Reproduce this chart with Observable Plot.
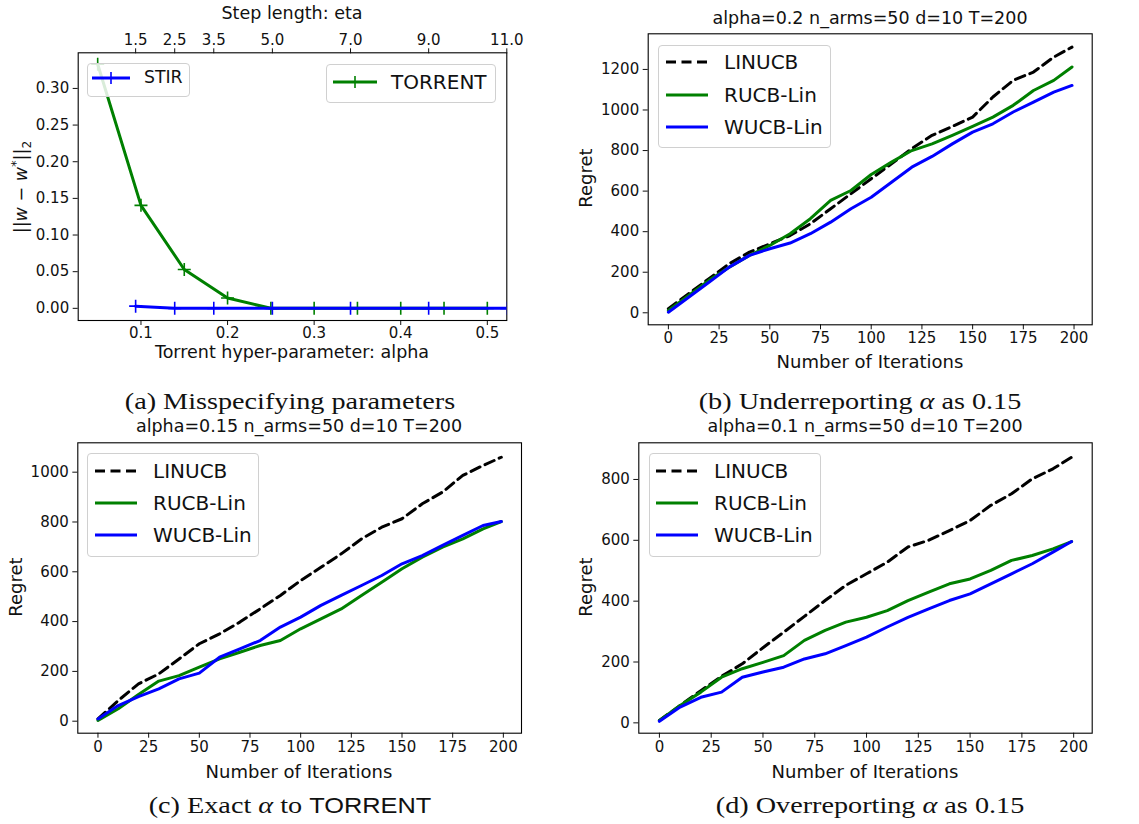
<!DOCTYPE html>
<html>
<head>
<meta charset="utf-8">
<script src="https://cdn.jsdelivr.net/npm/d3@7"></script>
<script src="https://cdn.jsdelivr.net/npm/@observablehq/plot@0.6"></script>
<style>
  html, body { margin: 0; padding: 0; background: #fff; }
  #root { position: relative; width: 1139px; height: 824px; background: #fff; overflow: hidden; font-family: "DejaVu Sans", sans-serif; color: #111; }
  .lbl { position: absolute; white-space: nowrap; line-height: 1; }
  .cap { font-family: "Liberation Serif", "DejaVu Serif", serif; }
  .leg { position: absolute; box-sizing: border-box; border: 1px solid #d0d0d0; border-radius: 4px; background: rgba(255,255,255,0.85); }
</style>
</head>
<body>
<div id="root"></div>
<script>
// ---------------- data ----------------
// (a) Misspecifying parameters
const alphaValues = [0.05, 0.10, 0.15, 0.20, 0.25, 0.30, 0.35, 0.40, 0.45, 0.50];
const torrentErr  = [0.333, 0.1405, 0.053, 0.014, 0, 0, 0, 0, 0, 0];
const etaValues   = [1.5, 2.5, 3.5, 5.0, 7.0, 9.0, 11.0];
const stirErr     = [0.003, 0, 0, 0, 0, 0, 0];
const alphaTicks  = [0.1, 0.2, 0.3, 0.4, 0.5];
const etaTicks    = [1.5, 2.5, 3.5, 5.0, 7.0, 9.0, 11.0];
const errTicks    = [0, 0.05, 0.10, 0.15, 0.20, 0.25, 0.30];

// regret curves (iterations sampled)
const iterations = [0, 10, 20, 30, 40, 50, 60, 70, 80, 90, 100, 110, 120, 130, 140, 150, 160, 170, 180, 190, 199];
const iterTicks = [0, 25, 50, 75, 100, 125, 150, 175, 200];

// (b) alpha=0.2
const b_linucb = [20, 94, 168, 242, 299, 340, 381, 439, 513, 587, 661, 735, 809, 875, 919, 965, 1064, 1146, 1187, 1261, 1310];
const b_rucb   = [12, 85, 160, 225, 283, 332, 390, 464, 554, 603, 682, 743, 800, 833, 875, 919, 965, 1023, 1096, 1146, 1212];
const b_wucb   = [3, 77, 151, 225, 283, 316, 344, 390, 447, 513, 570, 644, 718, 771, 833, 891, 932, 990, 1039, 1088, 1121];
// (c) alpha=0.15
const c_linucb = [9, 83, 150, 190, 250, 311, 351, 398, 451, 505, 565, 618, 672, 732, 779, 813, 873, 920, 987, 1027, 1060];
const c_rucb   = [3, 50, 107, 161, 183, 217, 250, 277, 304, 324, 371, 411, 451, 505, 558, 612, 659, 699, 732, 772, 802];
const c_wucb   = [9, 63, 99, 130, 170, 193, 257, 290, 324, 378, 418, 465, 505, 545, 585, 632, 665, 706, 746, 786, 802];
// (d) alpha=0.1
const d_linucb = [8, 57, 106, 153, 194, 247, 298, 350, 402, 452, 490, 528, 578, 600, 632, 665, 715, 753, 802, 835, 873];
const d_rucb   = [8, 57, 101, 150, 178, 199, 221, 271, 304, 331, 347, 369, 402, 430, 457, 473, 501, 534, 550, 572, 596];
const d_wucb   = [5, 52, 84, 101, 150, 167, 183, 210, 227, 254, 282, 315, 347, 375, 402, 424, 457, 490, 523, 561, 596];

const seriesNames = ["LINUCB", "RUCB-Lin", "WUCB-Lin"];
const seriesColors = ["#000000", "#008000", "#0000ff"];

// ---------------- helpers ----------------
const root = document.getElementById("root");
const FONT = '"DejaVu Sans", sans-serif';
const TICK_FS = "15px";

function place(el, left, top) {
  el.style.position = "absolute";
  el.style.left = left + "px";
  el.style.top = top + "px";
  root.appendChild(el);
}
function text(html, cx, cy, size, opts = {}) {
  const d = document.createElement("div");
  d.className = "lbl" + (opts.cls ? " " + opts.cls : "");
  d.innerHTML = html;
  d.style.fontSize = size + "px";
  d.style.left = cx + "px";
  d.style.top = cy + "px";
  d.style.transform = "translate(-50%,-50%)" + (opts.rotate ? ` rotate(${opts.rotate}deg)` : "") + (opts.sx ? ` scaleX(${opts.sx})` : "");
  if (opts.family) d.style.fontFamily = opts.family;
  root.appendChild(d);
  return d;
}
const plusSymbol = {
  draw(ctx, size) {
    const r = Math.sqrt(size / Math.PI);
    ctx.moveTo(-r, 0); ctx.lineTo(r, 0);
    ctx.moveTo(0, -r); ctx.lineTo(0, r);
  }
};
function swatchSVG(w, color, dashed, marker, sw) {
  const mk = marker ? `<line x1="${w/2}" x2="${w/2}" y1="3" y2="15" stroke="${color}" stroke-width="1.6"/>` : "";
  return `<svg width="${w}" height="18" style="position:absolute;overflow:visible">
    <line x1="0" x2="${w}" y1="9" y2="9" stroke="${color}" stroke-width="${sw}" ${dashed ? 'stroke-dasharray="10,5.5"' : ""}/>${mk}</svg>`;
}
function legend(box, entries) {
  const b = document.createElement("div");
  b.className = "leg";
  b.style.left = box.x + "px"; b.style.top = box.y + "px";
  b.style.width = box.w + "px"; b.style.height = box.h + "px";
  root.appendChild(b);
  for (const e of entries) {
    const s = document.createElement("div");
    s.style.position = "absolute";
    s.style.left = e.lx + "px"; s.style.top = (e.y - 9) + "px";
    s.innerHTML = swatchSVG(e.lw, e.color, e.dashed, e.marker, e.sw || 3);
    root.appendChild(s);
    const t = document.createElement("div");
    t.className = "lbl";
    t.textContent = e.label;
    t.style.fontSize = e.fs + "px";
    t.style.left = e.tx + "px";
    t.style.top = e.y + "px";
    t.style.transform = "translateY(-50%)";
    root.appendChild(t);
  }
}
function table(xs, ys) { return xs.map((x, i) => ({x, y: ys[i]})); }

// ---------------- regret panel ----------------
function regretPanel({left, top, width, height, margins, yDomain, yTicks, series}) {
  const marks = [Plot.frame({stroke: "#000", strokeWidth: 1.1})];
  series.forEach((vals, k) => {
    marks.push(Plot.line(table(iterations, vals), {
      x: "x", y: "y", stroke: seriesColors[k], strokeWidth: 3,
      strokeDasharray: k === 0 ? "10,5.5" : null, strokeLinejoin: "round"
    }));
  });
  const svg = Plot.plot({
    width, height,
    marginLeft: margins[0], marginRight: margins[1], marginTop: margins[2], marginBottom: margins[3],
    style: {fontFamily: FONT, fontSize: TICK_FS, color: "#111", background: "transparent", overflow: "visible"},
    x: {domain: [-9.95, 208.95], ticks: iterTicks, tickSize: 5, tickPadding: 3, label: null, tickFormat: d3.format("d")},
    y: {domain: yDomain, ticks: yTicks, tickSize: 5, tickPadding: 4, label: null, tickFormat: d3.format("d")},
    marks
  });
  place(svg, left, top);
}

// ---------------- panel (a) ----------------
(function () {
  const W = 570, H = 380, M = [77.7, 63.7, 52.3, 60];
  const yDom = [-0.0166, 0.3486];
  const a1 = Plot.plot({
    width: W, height: H,
    marginLeft: M[0], marginRight: M[1], marginTop: M[2], marginBottom: M[3],
    style: {fontFamily: FONT, fontSize: TICK_FS, color: "#111", background: "transparent", overflow: "visible"},
    x: {domain: [0.0275, 0.5225], ticks: alphaTicks, tickFormat: d3.format(".1f"), tickSize: 5, tickPadding: 2, label: null},
    y: {domain: yDom, ticks: errTicks, tickFormat: d3.format(".2f"), tickSize: 5, tickPadding: 4, label: null},
    marks: [
      Plot.frame({stroke: "#000", strokeWidth: 1.1}),
      Plot.line(table(alphaValues, torrentErr), {x: "x", y: "y", stroke: "#008000", strokeWidth: 3, clip: true}),
      Plot.dot(table(alphaValues, torrentErr), {x: "x", y: "y", symbol: plusSymbol, r: 6.5, stroke: "#008000", strokeWidth: 1.6, fill: "none", clip: true})
    ]
  });
  place(a1, 0, 0);
  const a2 = Plot.plot({
    width: W, height: H,
    marginLeft: M[0], marginRight: M[1], marginTop: M[2], marginBottom: M[3],
    style: {fontFamily: FONT, fontSize: TICK_FS, color: "#111", background: "transparent", overflow: "visible"},
    x: {domain: [0.03, 11.0], axis: "top", ticks: etaTicks, tickFormat: d3.format(".1f"), tickSize: 5, tickPadding: 3, label: null},
    y: {domain: yDom, axis: null},
    marks: [
      Plot.line(table(etaValues, stirErr), {x: "x", y: "y", stroke: "#0000ff", strokeWidth: 3, clip: true}),
      Plot.dot(table(etaValues, stirErr), {x: "x", y: "y", symbol: plusSymbol, r: 6.5, stroke: "#0000ff", strokeWidth: 1.6, fill: "none", clip: true})
    ]
  });
  place(a2, 0, 0);
  text("Step length: eta", 292, 14, 17.5);
  text("Torrent hyper-parameter: alpha", 292, 353, 17.5);
  text("||<i>w</i> − <i>w</i><sup style='font-size:0.75em'>*</sup>||<sub style='font-size:0.7em'>2</sub>", 21, 187, 17.5, {rotate: -90});
  legend({x: 87, y: 63, w: 103, h: 34}, [
    {label: "STIR", color: "#0000ff", lx: 92, lw: 38, tx: 144, y: 78, fs: 17.3, marker: true}
  ]);
  legend({x: 326, y: 64, w: 170, h: 39}, [
    {label: "TORRENT", color: "#008000", lx: 333, lw: 44, tx: 391, y: 82, fs: 20, marker: true}
  ]);
})();

// ---------------- panel (b) ----------------
regretPanel({left: 570, top: 0, width: 569, height: 380, margins: [77.7, 47.3, 33.3, 55.7],
  yDomain: [-59.2, 1375.7], yTicks: [0, 200, 400, 600, 800, 1000, 1200], series: [b_linucb, b_rucb, b_wucb]});
text("alpha=0.2 n_arms=50 d=10 T=200", 870, 19, 17.5);
text("Number of Iterations", 870, 362, 18);
text("Regret", 586, 178, 18, {rotate: -90});
legend({x: 658, y: 45, w: 173, h: 103}, [
  {label: "LINUCB", color: "#000", dashed: true, lx: 666, lw: 42, tx: 724, y: 62, fs: 20},
  {label: "RUCB-Lin", color: "#008000", lx: 666, lw: 42, tx: 724, y: 95, fs: 20},
  {label: "WUCB-Lin", color: "#0000ff", lx: 666, lw: 42, tx: 724, y: 127, fs: 20}
]);

// ---------------- panel (c) ----------------
regretPanel({left: 0, top: 410, width: 570, height: 380, margins: [77.3, 49, 32.3, 57.3],
  yDomain: [-48.2, 1118], yTicks: [0, 200, 400, 600, 800, 1000], series: [c_linucb, c_rucb, c_wucb]});
text("alpha=0.15 n_arms=50 d=10 T=200", 299, 427, 17.5);
text("Number of Iterations", 299, 772, 18);
text("Regret", 16, 587, 18, {rotate: -90});
legend({x: 87, y: 453, w: 172, h: 104}, [
  {label: "LINUCB", color: "#000", dashed: true, lx: 95, lw: 42, tx: 153, y: 471, fs: 20},
  {label: "RUCB-Lin", color: "#008000", lx: 95, lw: 42, tx: 153, y: 503, fs: 20},
  {label: "WUCB-Lin", color: "#0000ff", lx: 95, lw: 42, tx: 153, y: 535, fs: 20}
]);

// ---------------- panel (d) ----------------
regretPanel({left: 570, top: 410, width: 569, height: 380, margins: [68.3, 47.3, 32.3, 57.3],
  yDomain: [-34, 920.5], yTicks: [0, 200, 400, 600, 800], series: [d_linucb, d_rucb, d_wucb]});
text("alpha=0.1 n_arms=50 d=10 T=200", 865, 427, 17.5);
text("Number of Iterations", 865, 772, 18);
text("Regret", 586, 587, 18, {rotate: -90});
legend({x: 649, y: 453, w: 172, h: 104}, [
  {label: "LINUCB", color: "#000", dashed: true, lx: 656, lw: 42, tx: 714, y: 471, fs: 20},
  {label: "RUCB-Lin", color: "#008000", lx: 656, lw: 42, tx: 714, y: 503, fs: 20},
  {label: "WUCB-Lin", color: "#0000ff", lx: 656, lw: 42, tx: 714, y: 535, fs: 20}
]);

// ---------------- captions ----------------
const capOpts = {cls: "cap", sx: 1.2};
text("(a) Misspecifying parameters", 290, 402, 23.5, capOpts);
text("(b) Underreporting <i>α</i> as 0.15", 860, 402, 23.5, capOpts);
text("(c) Exact <i>α</i> to <span style='font-family:\"Liberation Sans\",sans-serif;font-size:0.9em'>TORRENT</span>", 290, 806, 23.5, capOpts);
text("(d) Overreporting <i>α</i> as 0.15", 870, 806, 23.5, capOpts);
</script>
</body>
</html>
